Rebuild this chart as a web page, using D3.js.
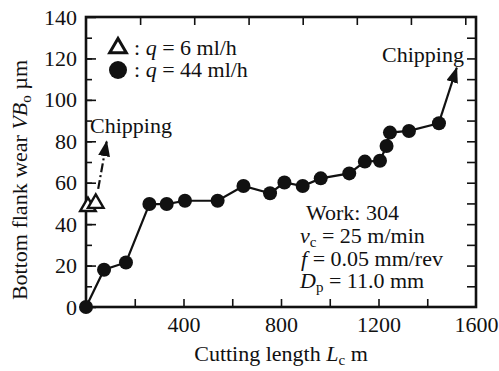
<!DOCTYPE html>
<html>
<head>
<meta charset="utf-8">
<script src="https://cdn.jsdelivr.net/npm/d3@7"></script>
<style>
  body { margin: 0; background: #fff; }
  svg { display: block; }
</style>
</head>
<body>
<svg id="chart" width="499" height="371"></svg>
<script>
// q = 44 ml/h (filled circles)
const lengthHigh = [0, 74, 164, 260, 331, 406, 540, 646, 755, 814, 889, 963, 1080, 1144, 1206, 1233, 1247, 1325, 1448];
const wearHigh = [0, 18, 21.5, 49.7, 49.7, 51.3, 51.3, 58.4, 54.9, 60.1, 58.4, 62.1, 64.5, 70.2, 70.6, 77.7, 84.2, 85, 88.7];
// q = 6 ml/h (open triangles)
const lengthLow = [8, 40];
const wearLow = [48.5, 50];
// chipping arrows [x0, y0, x1, y1] in data units
const arrowLow = [50, 57, 85, 80];
const arrowHigh = [1448, 89, 1521, 115.5];

const xMajor = [400, 800, 1200, 1600];
const xMinor = [200, 400, 600, 800, 1000, 1200, 1400];
const xTop = [222, 444, 667, 889, 1111, 1333, 1556];
const yMajor = [0, 20, 40, 60, 80, 100, 120, 140];
const yMinor = d3.range(10, 140, 10);

const serif = "'Liberation Serif'";

const svg = d3.select('#chart');
const width = +svg.attr('width');
const height = +svg.attr('height');
const margin = { top: 17, right: 23, bottom: 64, left: 86 };
const innerWidth = width - margin.left - margin.right;
const innerHeight = height - margin.top - margin.bottom;
const ink = '#111';
const fs = 22;

const x = d3.scaleLinear().domain([0, 1600]).range([0, innerWidth]);
const y = d3.scaleLinear().domain([0, 140]).range([innerHeight, 0]);

const g = svg.append('g').attr('transform', `translate(${margin.left},${margin.top})`);

const styleAxis = sel => {
  sel.attr('font-size', fs).attr('font-family', null);
  sel.select('.domain').remove();
  sel.selectAll('line').attr('stroke', ink).attr('stroke-width', 1.6);
  sel.selectAll('text').attr('fill', ink);
};
const ticksOnly = sel => {
  sel.call(styleAxis);
  sel.selectAll('text').remove();
};

// left axis
g.append('g').call(d3.axisLeft(y).tickValues(yMinor).tickSize(-6)).call(ticksOnly);
g.append('g').call(d3.axisLeft(y).tickValues(yMajor).tickSize(-10).tickPadding(9)).call(styleAxis);
// right axis
g.append('g').attr('transform', `translate(${innerWidth},0)`)
  .call(d3.axisRight(y).tickValues(yMinor).tickSize(-9)).call(ticksOnly);
// bottom axis
g.append('g').attr('transform', `translate(0,${innerHeight})`)
  .call(d3.axisBottom(x).tickValues(xMinor).tickSize(-8)).call(ticksOnly);
g.append('g').attr('transform', `translate(0,${innerHeight})`)
  .call(d3.axisBottom(x).tickValues(xMajor).tickSize(0).tickPadding(9).tickFormat(d3.format('d'))).call(styleAxis);
// top axis
g.append('g')
  .call(d3.axisTop(x).tickValues(xTop).tickSize(-8)).call(ticksOnly);

// frame
g.append('rect')
  .attr('width', innerWidth).attr('height', innerHeight)
  .attr('fill', 'none').attr('stroke', ink).attr('stroke-width', 2.6);

// axis titles
const xt = svg.append('text')
  .attr('x', margin.left + innerWidth / 2).attr('y', 361)
  .attr('text-anchor', 'middle').attr('font-size', 22).attr('fill', ink);
xt.append('tspan').text('Cutting length ');
xt.append('tspan').attr('font-style', 'italic').text('L');
xt.append('tspan').attr('font-size', 15).attr('dy', 4).text('c');
xt.append('tspan').attr('dy', -4).text(' m');

const yt = svg.append('text')
  .attr('transform', `translate(27,180) rotate(-90)`)
  .attr('text-anchor', 'middle').attr('font-size', 22).attr('fill', ink);
yt.append('tspan').text('Bottom flank wear ');
yt.append('tspan').attr('font-style', 'italic').text('VB');
yt.append('tspan').attr('font-size', 15).attr('dy', 4).text('o');
yt.append('tspan').attr('dy', -4).text(' µm');

// arrowheads
const defs = svg.append('defs');
defs.append('marker')
  .attr('id', 'head').attr('viewBox', '0 0 16 12')
  .attr('refX', 15).attr('refY', 6)
  .attr('markerWidth', 16).attr('markerHeight', 12)
  .attr('markerUnits', 'userSpaceOnUse').attr('orient', 'auto')
  .append('path').attr('d', 'M0,0 L16,6 L0,12 Z').attr('fill', ink);

g.append('line')
  .attr('x1', x(arrowLow[0])).attr('y1', y(arrowLow[1]))
  .attr('x2', x(arrowLow[2])).attr('y2', y(arrowLow[3]))
  .attr('stroke', ink).attr('stroke-width', 2.2)
  .attr('stroke-dasharray', '9,3,2,3')
  .attr('marker-end', 'url(#head)');

g.append('line')
  .attr('x1', x(arrowHigh[0])).attr('y1', y(arrowHigh[1]))
  .attr('x2', x(arrowHigh[2])).attr('y2', y(arrowHigh[3]))
  .attr('stroke', ink).attr('stroke-width', 2.2)
  .attr('marker-end', 'url(#head)');

// data line q = 44
const highData = lengthHigh.map((d, i) => [d, wearHigh[i]]);
const lowData = lengthLow.map((d, i) => [d, wearLow[i]]);
const line = d3.line().x(d => x(d[0])).y(d => y(d[1]));

g.append('path').datum(highData)
  .attr('d', line).attr('fill', 'none').attr('stroke', ink).attr('stroke-width', 2.2);

g.selectAll('.dot').data(highData).enter().append('circle')
  .attr('class', 'dot')
  .attr('cx', d => x(d[0])).attr('cy', d => y(d[1]))
  .attr('r', 7).attr('fill', ink);

g.append('path').datum(lowData)
  .attr('d', line).attr('fill', 'none').attr('stroke', ink).attr('stroke-width', 2);
const tri = d3.symbol().type(d3.symbolTriangle).size(105);
g.selectAll('.tri').data(lowData).enter().append('path')
  .attr('class', 'tri')
  .attr('transform', d => `translate(${x(d[0])},${y(d[1])})`)
  .attr('d', tri).attr('fill', '#fff').attr('stroke', ink).attr('stroke-width', 2.4);

// chipping labels
svg.append('text').attr('x', 90).attr('y', 133).attr('font-size', fs).attr('fill', ink).text('Chipping');
svg.append('text').attr('x', 382).attr('y', 62).attr('font-size', fs).attr('fill', ink).text('Chipping');

// legend
svg.append('path').attr('transform', 'translate(118,48)')
  .attr('d', d3.symbol().type(d3.symbolTriangle).size(120))
  .attr('fill', '#fff').attr('stroke', ink).attr('stroke-width', 3);
svg.append('circle').attr('cx', 118).attr('cy', 70).attr('r', 9).attr('fill', ink);

const legendRows = [['6', 55], ['44', 77]];
legendRows.forEach(([q, ty]) => {
  const t = svg.append('text').attr('x', 134).attr('y', ty).attr('font-size', fs).attr('fill', ink);
  t.append('tspan').text(': ');
  t.append('tspan').attr('font-style', 'italic').text('q');
  t.append('tspan').text(` = ${q} ml/h`);
});

// conditions
const cond = svg.append('g').attr('font-size', fs).attr('fill', ink);
cond.append('text').attr('x', 306).attr('y', 220).text('Work: 304');
const c1 = cond.append('text').attr('x', 300).attr('y', 243);
c1.append('tspan').attr('font-style', 'italic').text('v');
c1.append('tspan').attr('font-size', 15).attr('dy', 4).text('c');
c1.append('tspan').attr('dy', -4).text(' = 25 m/min');
const c2 = cond.append('text').attr('x', 301).attr('y', 265.5);
c2.append('tspan').attr('font-style', 'italic').text('f');
c2.append('tspan').text(' = 0.05 mm/rev');
const c3 = cond.append('text').attr('x', 300).attr('y', 288);
c3.append('tspan').attr('font-style', 'italic').text('D');
c3.append('tspan').attr('font-size', 15).attr('dy', 4).text('p');
c3.append('tspan').attr('dy', -4).text(' = 11.0 mm');

// serif face for every label
svg.selectAll('text, tspan').style('font-family', serif);
</script>
</body>
</html>
